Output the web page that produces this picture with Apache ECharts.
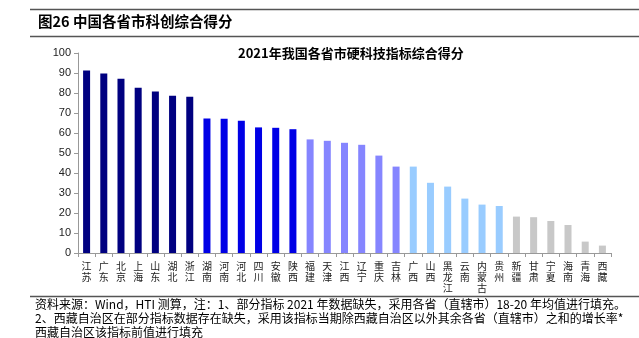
<!DOCTYPE html>
<html><head><meta charset="utf-8">
<script src="https://cdn.jsdelivr.net/npm/echarts@6/dist/echarts.min.js"></script>
<style>html,body{margin:0;padding:0;background:#fff}#c{width:639px;height:338px}</style>
</head><body><div id="c"></div>
<script>
const categories = ['江苏','广东','北京','上海','山东','湖北','浙江','湖南','河南','河北','四川','安徽','陕西','福建','天津','江西','辽宁','重庆','吉林','广西','山西','黑龙江','云南','内蒙古','贵州','新疆','甘肃','宁夏','海南','青海','西藏'];
const values = [91.3,89.8,87.1,82.6,80.8,78.6,78.1,67.3,67.1,66.1,62.8,62.6,61.9,56.8,56.1,55.1,54.1,48.7,43.2,43.2,35.1,33.2,27.2,24.2,23.5,18.2,17.9,16.0,14.0,5.7,3.7];
const groupColors = ['#000080','#0000e6','#8585ff','#99ccff','#c8c8c8'];
const groupSizes = [7,6,6,6,6];
const yTicks = [0,10,20,30,40,50,60,70,80,90,100];
const mainTitle = '图26 中国各省市科创综合得分';
const chartTitle = '2021年我国各省市硬科技指标综合得分';
const notes = [
  '资料来源：Wind，HTI 测算，注：1、部分指标 2021 年数据缺失，采用各省（直辖市）18-20 年均值进行填充。',
  '2、西藏自治区在部分指标数据存在缺失，采用该指标当期除西藏自治区以外其余各省（直辖市）之和的增长率*',
  '西藏自治区该指标前值进行填充'
];

const colorOf = [];
groupSizes.forEach((n,gi)=>{for(let i=0;i<n;i++)colorOf.push(groupColors[gi]);});

const chart = echarts.init(document.getElementById('c'));
const font = '"Noto Sans CJK SC", "Liberation Sans", sans-serif';
chart.setOption({
  animation:false,
  textStyle:{fontFamily:font},
  title:{text:chartTitle,top:47,left:238,padding:0,textStyle:{fontSize:13,fontWeight:'bold',color:'#000',fontFamily:font}},
  grid:{left:78,right:28,top:53,bottom:85},
  xAxis:{type:'category',data:categories,
    axisLine:{lineStyle:{color:'#999'}},
    axisTick:{show:true,alignWithLabel:false,length:4,lineStyle:{color:'#999'}},
    axisLabel:{interval:0,fontSize:10,color:'#222',lineHeight:11,margin:8,
      formatter:v=>v.split('').join('\n')}},
  yAxis:{type:'value',min:0,max:100,interval:10,
    axisLine:{show:true,lineStyle:{color:'#999'}},
    axisTick:{show:true,length:4,lineStyle:{color:'#999'}},
    splitLine:{show:false},
    axisLabel:{fontSize:11,color:'#222',margin:7,fontFamily:'"Liberation Sans", Arial, sans-serif'}},
  series:[{type:'bar',barWidth:7,
    data:values.map((v,i)=>({value:v,itemStyle:{color:colorOf[i]}}))}],
  graphic:[
    {type:'line',shape:{x1:30,y1:9.5,x2:639,y2:9.5},style:{stroke:'#555',lineWidth:1.5}},
    {type:'text',left:38,top:14,style:{text:mainTitle,font:'bold 14.5px '+font,fill:'#000'}},
    {type:'line',shape:{x1:30,y1:36.5,x2:639,y2:36.5},style:{stroke:'#555',lineWidth:1.5}},
    {type:'line',shape:{x1:30,y1:296.5,x2:639,y2:296.5},style:{stroke:'#555',lineWidth:1.5}},
    {type:'text',left:35,top:297,style:{text:notes.join('\n'),lineHeight:14,font:'12px '+font,fill:'#000'}}
  ]
});
</script></body></html>
